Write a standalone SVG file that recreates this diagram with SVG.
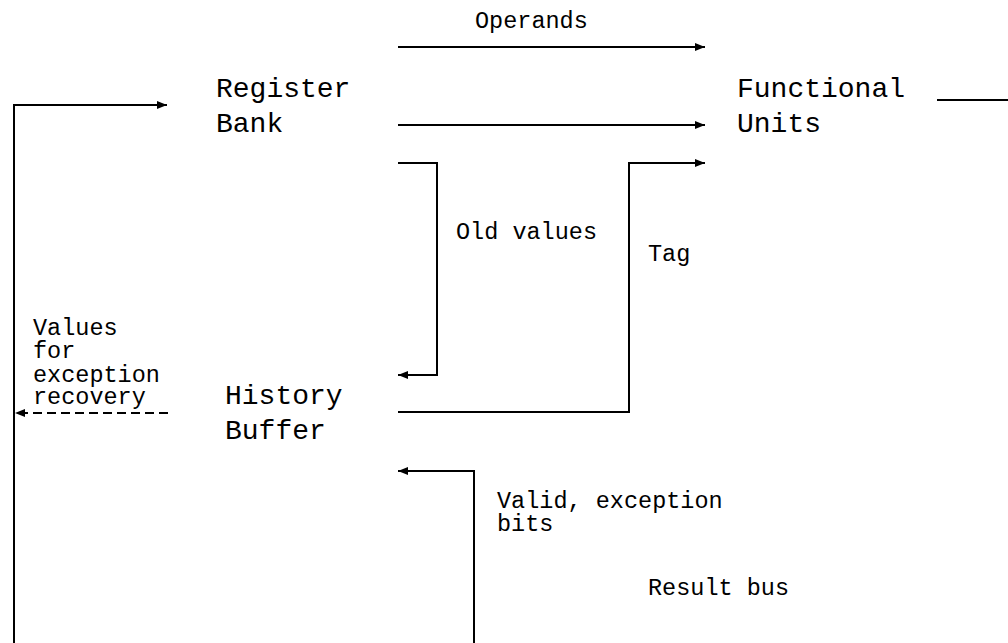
<svg xmlns="http://www.w3.org/2000/svg" width="1008" height="643" viewBox="0 0 1008 643">
<defs>
<style>
.big{font-family:"Liberation Mono","Courier New",monospace;font-size:28px;fill:#000}
.sm{font-family:"Liberation Mono","Courier New",monospace;font-size:23.5px;fill:#000}
.ln{fill:none;stroke:#000;stroke-width:2}
.dash{stroke-dasharray:9 5}
</style>
<marker id="ah" viewBox="0 0 10 8" refX="10" refY="4" markerWidth="10" markerHeight="8" markerUnits="userSpaceOnUse" orient="auto">
<path d="M0,0 L10,4 L0,8 Z" fill="#000"/>
</marker>
</defs>
<rect width="1008" height="643" fill="#fff"/>
<g id="register-bank"><text class="big" x="216" y="97">Register</text><text class="big" x="216" y="132">Bank</text></g>
<g id="functional-units"><text class="big" x="737" y="97">Functional</text><text class="big" x="737" y="132">Units</text></g>
<g id="history-buffer"><text class="big" x="225" y="404">History</text><text class="big" x="225" y="439">Buffer</text></g>
<g id="connectors">
<path class="ln" d="M14,643 V105 H167" marker-end="url(#ah)"/>
<path class="ln" d="M398,47 H705" marker-end="url(#ah)"/>
<path class="ln" d="M398,125 H705" marker-end="url(#ah)"/>
<path class="ln" d="M398,163 H437 V375 H398" marker-end="url(#ah)"/>
<path class="ln" d="M398,412 H629 V163 H705" marker-end="url(#ah)"/>
<path class="ln" d="M937,100 H1008"/>
<path class="ln" d="M474,643 V471 H398" marker-end="url(#ah)"/>
<path class="ln dash" d="M168,413 H15" marker-end="url(#ah)"/>
</g>
<g id="labels">
<text class="sm" x="475" y="28">Operands</text>
<text class="sm" x="456" y="239">Old values</text>
<text class="sm" x="648" y="261">Tag</text>
<text class="sm" x="33" y="335">Values</text>
<text class="sm" x="33" y="358">for</text>
<text class="sm" x="33" y="382">exception</text>
<text class="sm" x="33" y="404">recovery</text>
<text class="sm" x="497" y="508">Valid, exception</text>
<text class="sm" x="497" y="531">bits</text>
<text class="sm" x="648" y="595">Result bus</text>
</g>
</svg>
